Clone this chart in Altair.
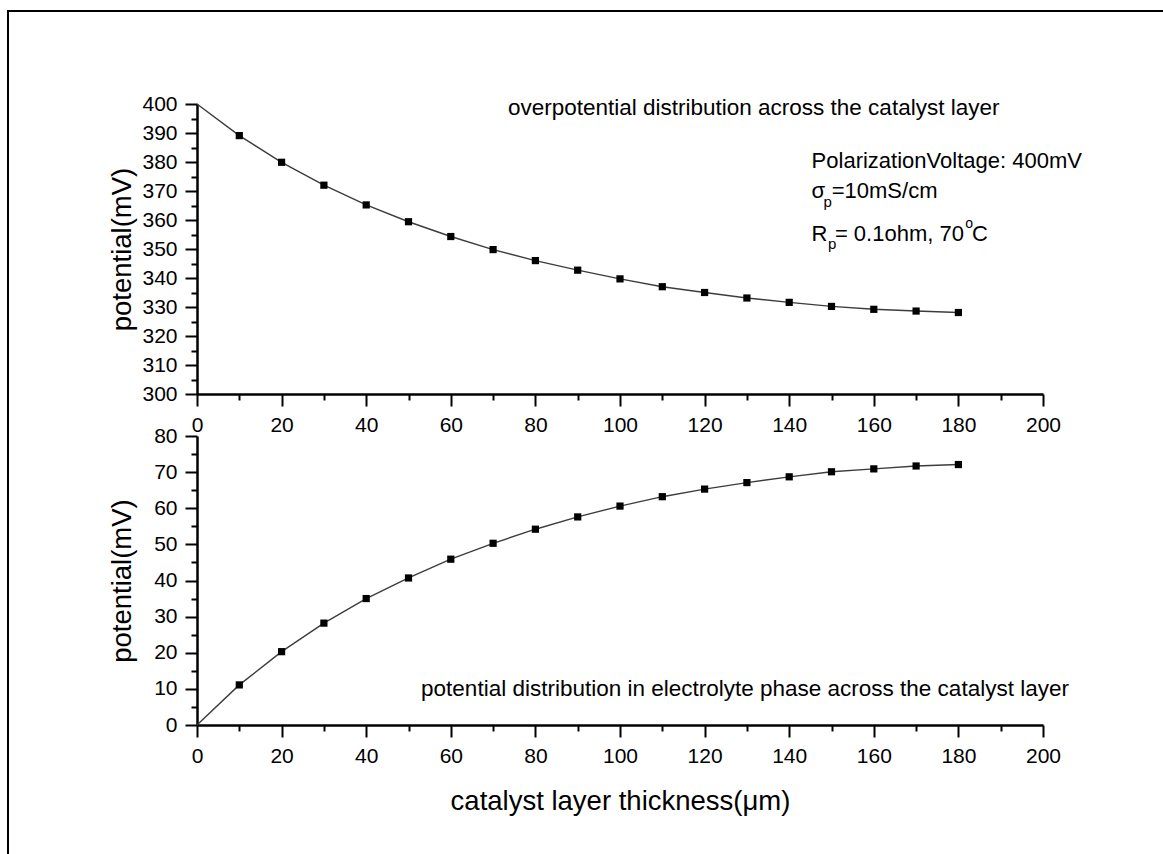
import altair as alt
import pandas as pd

# ---- data ----
thickness = [0, 10, 20, 30, 40, 50, 60, 70, 80, 90, 100, 110, 120, 130, 140, 150, 160, 170, 180]
overpotential = [400.0, 389.1, 379.9, 372.0, 365.2, 359.4, 354.3, 349.8, 346.0, 342.7,
                 339.7, 337.0, 335.0, 333.1, 331.6, 330.2, 329.2, 328.6, 328.1]
electrolyte = [0.0, 11.1, 20.3, 28.2, 35.0, 40.7, 45.9, 50.3, 54.2, 57.6,
               60.6, 63.2, 65.3, 67.1, 68.7, 70.1, 70.9, 71.7, 72.1]

x_ticks = list(range(0, 201, 10))
top_y_ticks = list(range(300, 401, 5))
bot_y_ticks = list(range(0, 81, 5))

# annotation pieces (data coordinates)
top_title_text = ["overpotential distribution across the catalyst layer"]
top_title_x = [131.6]
top_title_y = [396.3]

param_text = ["PolarizationVoltage: 400mV", "\u03c3", "p", "=10mS/cm", "R", "p", "= 0.1ohm, 70", "o", "C"]
param_x = [145.3, 145.3, 148.1, 150.05, 145.3, 149.2, 150.8, 181.6, 183.2]
param_y = [378.0, 367.6, 364.5, 367.6, 352.7, 349.9, 352.7, 357.1, 352.7]
param_size = [22, 22, 15, 22, 22, 15, 22, 14, 22]

bot_title_text = ["potential distribution in electrolyte phase across the catalyst layer"]
bot_title_x = [129.55]
bot_title_y = [7.95]

FONT = "Liberation Sans"

df_top = pd.DataFrame({"x": thickness, "y": overpotential})
df_bot = pd.DataFrame({"x": thickness, "y": electrolyte})
df_top_pts = df_top[df_top["x"] > 0]
df_bot_pts = df_bot[df_bot["x"] > 0]


def tick_size(step):
    return {"condition": {"test": f"datum.value % {step} !== 0", "value": 6}, "value": 12}


def x_axis(title):
    return alt.Axis(
        values=x_ticks,
        labelExpr="datum.value % 20 === 0 ? datum.label : ''",
        tickSize=tick_size(20),
        labelFlush=False,
        labelOverlap=False,
        labelPadding=8,
        titlePadding=21,
        title=title,
    )


def y_axis(values):
    return alt.Axis(
        values=values,
        labelExpr="datum.value % 10 === 0 ? datum.label : ''",
        tickSize=tick_size(10),
        labelOverlap=False,
        labelPadding=8,
        titleX=-61,
        title="potential(mV)",
    )


xscale = alt.Scale(domain=[0, 200], nice=False, zero=False)
top_yscale = alt.Scale(domain=[300, 400], nice=False, zero=False)
bot_yscale = alt.Scale(domain=[0, 80], nice=False, zero=False)

# ---------- top panel ----------
TX = alt.X("x:Q", scale=xscale, axis=x_axis(None))
TY = alt.Y("y:Q", scale=top_yscale, axis=y_axis(top_y_ticks))

top_line = alt.Chart(df_top).mark_line(color="#3c3c3c", strokeWidth=1.4).encode(x=TX, y=TY)
top_pts = alt.Chart(df_top_pts).mark_point(shape="square", filled=True, color="black", size=52, opacity=1).encode(
    x=TX, y=TY
)
top_title = alt.Chart(pd.DataFrame({"x": top_title_x, "y": top_title_y, "t": top_title_text})).mark_text(
    align="center", baseline="alphabetic", font=FONT, fontSize=22.5, color="black"
).encode(x=TX, y=TY, text="t:N")
params = alt.Chart(pd.DataFrame({"x": param_x, "y": param_y, "t": param_text, "s": param_size})).mark_text(
    align="left", baseline="alphabetic", font=FONT, color="black"
).encode(x=TX, y=TY, text="t:N", size=alt.Size("s:Q", scale=None, legend=None))

frame = alt.Chart(pd.DataFrame({"a": [0]})).mark_rect(
    fillOpacity=0, stroke="black", strokeWidth=2
).encode(x=alt.value(-189), x2=alt.value(3000), y=alt.value(-93), y2=alt.value(3000))

top = alt.layer(frame, top_line, top_pts, top_title, params).properties(width=846, height=290)

# ---------- bottom panel ----------
BX = alt.X("x:Q", scale=xscale, axis=x_axis("catalyst layer thickness(\u03bcm)"))
BY = alt.Y("y:Q", scale=bot_yscale, axis=y_axis(bot_y_ticks))

bot_line = alt.Chart(df_bot).mark_line(color="#3c3c3c", strokeWidth=1.4).encode(x=BX, y=BY)
bot_pts = alt.Chart(df_bot_pts).mark_point(shape="square", filled=True, color="black", size=52, opacity=1).encode(
    x=BX, y=BY
)
bot_title = alt.Chart(pd.DataFrame({"x": bot_title_x, "y": bot_title_y, "t": bot_title_text})).mark_text(
    align="center", baseline="alphabetic", font=FONT, fontSize=22.5, color="black"
).encode(x=BX, y=BY, text="t:N")

bottom = alt.layer(bot_line, bot_pts, bot_title).properties(width=846, height=289)

chart = alt.vconcat(top, bottom, spacing=42, bounds="flush").properties(
    autosize=alt.AutoSizeParams(type="none"),
    padding={"left": 197, "top": 104, "right": 120, "bottom": 750},
    background="white",
).configure_view(stroke=None).configure_axis(
    grid=False,
    labelOverlap=False,
    domainColor="black",
    domainWidth=2.5,
    tickColor="black",
    tickWidth=2,
    labelFont=FONT,
    labelFontSize=21,
    labelColor="black",
    titleFont=FONT,
    titleFontSize=27.5,
    titleFontWeight="normal",
    titleColor="black",
)

chart.save("out.html", embed_options={"renderer": "svg", "actions": False})
